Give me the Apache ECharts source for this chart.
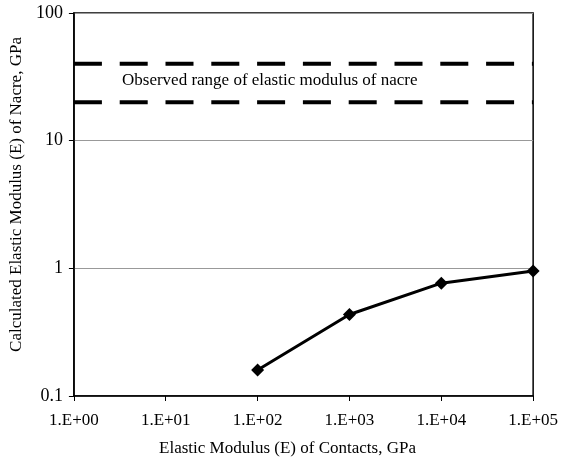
<!DOCTYPE html>
<html>
<head>
<meta charset="utf-8">
<script src="https://cdn.jsdelivr.net/npm/echarts@6/dist/echarts.min.js"></script>
<style>
  html, body { margin: 0; padding: 0; background: #fff; }
  #chart { width: 561px; height: 462px; }
</style>
</head>
<body>
<div id="chart"></div>
<script>
// contact modulus (GPa) vs calculated nacre modulus (GPa)
var contactE = [1e2, 1e3, 1e4, 1e5]
var nacreE = [0.16, 0.435, 0.765, 0.953]
// observed range of nacre modulus
var rangeX = [1, 1e5]
var rangeUpper = 40
var rangeLower = 20
var yTicks = [0.1, 1, 10, 100]

var font = 'Liberation Serif'

var chart = echarts.init(document.getElementById('chart'))

function pairs(xs, ys) {
  return xs.map(function (x, i) { return [x, ys[i]] })
}

chart.setOption({
  animation: false,
  backgroundColor: '#fff',
  grid: {
    left: 73,
    right: 26,
    top: 13,
    bottom: 66,
    show: true,
    borderColor: '#000',
    borderWidth: 1.5
  },
  xAxis: {
    type: 'log',
    logBase: 10,
    min: 1,
    max: 1e5,
    name: 'Elastic Modulus (E) of Contacts, GPa',
    nameLocation: 'middle',
    nameGap: 44,
    nameTextStyle: { fontFamily: font, fontSize: 17, color: '#000', padding: [0, 32, 0, 0] },
    axisLine: { lineStyle: { color: '#000', width: 1.5 } },
    axisTick: { show: true, length: 5, lineStyle: { color: '#000', width: 1 } },
    minorTick: { show: false },
    splitLine: { show: false },
    axisLabel: {
      fontFamily: font,
      fontSize: 17,
      color: '#000',
      margin: 16,
      formatter: function (v) {
        var e = Math.round(Math.log10(v))
        return '1.E+' + (e < 10 ? '0' : '') + e
      }
    }
  },
  yAxis: {
    type: 'log',
    logBase: 10,
    min: yTicks[0],
    max: yTicks[yTicks.length - 1],
    name: 'Calculated Elastic Modulus (E) of Nacre, GPa',
    nameLocation: 'middle',
    nameGap: 47,
    nameTextStyle: { fontFamily: font, fontSize: 17, color: '#000', padding: [0, 0, 0, 20] },
    axisLine: { lineStyle: { color: '#000', width: 1.5 } },
    axisTick: { show: true, length: 5, lineStyle: { color: '#000', width: 1 } },
    splitLine: { show: true, lineStyle: { color: '#999', width: 1 } },
    axisLabel: {
      fontFamily: font,
      fontSize: 18,
      color: '#000',
      margin: 11,
      formatter: function (v) {
        return v < 1 ? v.toFixed(1) : String(Math.round(v))
      }
    }
  },
  graphic: [{
    type: 'text',
    left: 122,
    top: 72,
    style: {
      text: 'Observed range of elastic modulus of nacre',
      fontFamily: font,
      fontSize: 17,
      fill: '#000'
    }
  }],
  series: [{
    type: 'line',
    data: pairs(rangeX, [rangeUpper, rangeUpper]),
    symbol: 'none',
    clip: false,
    lineStyle: { color: '#000', width: 4, type: [28, 17.8] }
  }, {
    type: 'line',
    data: pairs(rangeX, [rangeLower, rangeLower]),
    symbol: 'none',
    clip: false,
    lineStyle: { color: '#000', width: 4, type: [28, 17.8] }
  }, {
    type: 'line',
    data: pairs(contactE, nacreE),
    symbol: 'diamond',
    symbolSize: 13,
    itemStyle: { color: '#000' },
    lineStyle: { color: '#000', width: 3 }
  }]
})
</script>
</body>
</html>
